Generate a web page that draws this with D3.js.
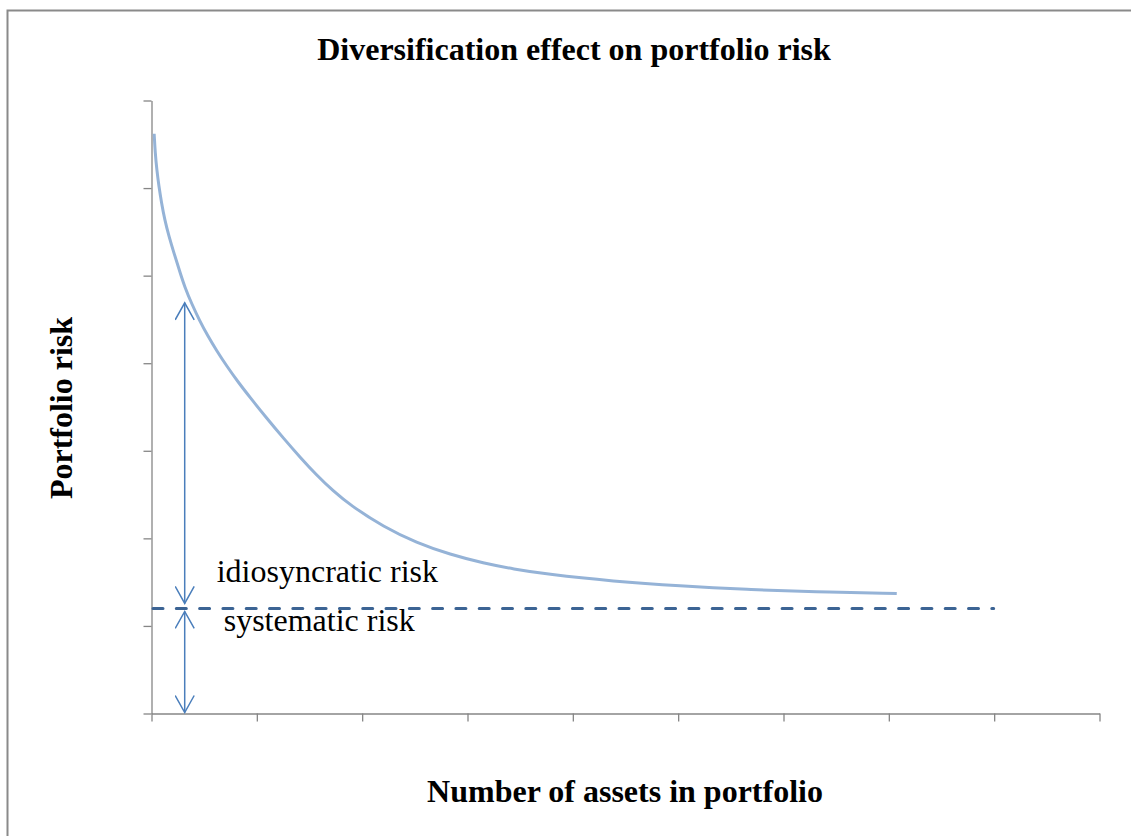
<!DOCTYPE html>
<html>
<head>
<meta charset="utf-8">
<script src="https://cdn.jsdelivr.net/npm/d3@7"></script>
<style>
  body { margin: 0; background: #fff; }
  text { font-family: "Times New Roman", "Liberation Serif", serif; }
</style>
</head>
<body>
<div id="chart"></div>
<script>
"use strict"

/* number of assets (axis units) and portfolio risk */
const assets = [0.03, 0.04, 0.055, 0.075, 0.1, 0.13, 0.17, 0.22, 0.27, 0.32, 0.39, 0.46, 0.54,
  0.62, 0.72, 0.83, 0.94, 1.1, 1.26, 1.42, 1.57, 1.73, 1.89, 2.21, 2.52, 2.84, 3.16, 3.44,
  3.76, 4.39, 5.02, 5.66, 6.29, 7.08];
const risk = [6.62, 6.4, 6.21, 6.02, 5.83, 5.64, 5.45, 5.25, 5.06, 4.87, 4.67, 4.49, 4.31,
  4.15, 3.965, 3.78, 3.61, 3.37, 3.14, 2.92, 2.725, 2.54, 2.38, 2.13, 1.95, 1.815, 1.716, 1.65,
  1.59, 1.51, 1.455, 1.415, 1.39, 1.37];

const systematicRisk = 1.2;
const systematicEnd = 8;
const arrowAt = 0.32;
const arrowTop = 4.69;

const xTicks = [0, 1, 2, 3, 4, 5, 6, 7, 8, 9];
const yTicks = [0, 1, 2, 3, 4, 5, 6, 7];

const titleText = "Diversification effect on portfolio risk";
const xTitle = "Number of assets in portfolio";
const yTitle = "Portfolio risk";

let drawing = d3.select("#chart")
  .append("svg")
  .attr("width", 1131)
  .attr("height", 836);

/* marker for the open arrow heads */
drawing.append("defs").append("marker")
  .attr("id", "head")
  .attr("viewBox", "0 0 20 20")
  .attr("refX", 18)
  .attr("refY", 10)
  .attr("markerWidth", 20)
  .attr("markerHeight", 20)
  .attr("markerUnits", "userSpaceOnUse")
  .attr("orient", "auto-start-reverse")
  .append("path")
  .attr("d", "M1,0.5 L18,10 L1,19.5")
  .attr("fill", "none")
  .attr("stroke", "#4a7ebb")
  .attr("stroke-width", 1.5);

/* chart frame */
drawing.append("rect")
  .attr("x", 7.5)
  .attr("y", 10.5)
  .attr("width", 1140)
  .attr("height", 900)
  .attr("fill", "none")
  .attr("stroke", "#8a8a8a")
  .attr("stroke-width", 2);

let x = d3.scaleLinear().domain([0, 9]).range([151, 1099]);
let y = d3.scaleLinear().domain([0, 7]).range([713.5, 100.5]);

/* axes */
let yAxis = drawing.append("g")
  .attr("transform", "translate(151.5,0)")
  .call(d3.axisLeft(y).tickValues(yTicks).tickSize(8).tickSizeOuter(0).tickFormat(""));

let xAxis = drawing.append("g")
  .attr("transform", "translate(0.5,713.5)")
  .call(d3.axisBottom(x).tickValues(xTicks).tickSize(8).tickSizeOuter(0).tickFormat(""));

drawing.selectAll(".domain, .tick line")
  .attr("stroke", "#868686")
  .attr("stroke-width", 1.3);

/* risk curve */
let line = d3.line()
  .x(function (d, i) { return x(assets[i]); })
  .y(function (d, i) { return y(risk[i]); })
  .curve(d3.curveBasis);

drawing.append("path")
  .datum(risk)
  .attr("d", line)
  .attr("fill", "none")
  .attr("stroke", "#95b3d7")
  .attr("stroke-width", 3);

/* systematic risk level */
drawing.append("line")
  .attr("x1", x(0) + 2)
  .attr("y1", y(systematicRisk))
  .attr("x2", x(systematicEnd))
  .attr("y2", y(systematicRisk))
  .attr("stroke", "#3c6494")
  .attr("stroke-width", 3)
  .attr("stroke-linecap", "round")
  .attr("stroke-dasharray", "10 13.3");

/* idiosyncratic arrow */
drawing.append("line")
  .attr("x1", x(arrowAt))
  .attr("y1", y(systematicRisk) - 5)
  .attr("x2", x(arrowAt))
  .attr("y2", y(arrowTop))
  .attr("stroke", "#4a7ebb")
  .attr("stroke-width", 1.5)
  .attr("marker-start", "url(#head)")
  .attr("marker-end", "url(#head)");

/* systematic arrow */
drawing.append("line")
  .attr("x1", x(arrowAt))
  .attr("y1", y(systematicRisk) + 3)
  .attr("x2", x(arrowAt))
  .attr("y2", y(0) - 1)
  .attr("stroke", "#4a7ebb")
  .attr("stroke-width", 1.5)
  .attr("marker-start", "url(#head)")
  .attr("marker-end", "url(#head)");

/* labels */
drawing.append("text")
  .attr("x", x(arrowAt) + 32)
  .attr("y", y(systematicRisk) - 26)
  .attr("font-size", 32)
  .attr("fill", "#000")
  .text("idiosyncratic risk");

drawing.append("text")
  .attr("x", x(arrowAt) + 39)
  .attr("y", y(systematicRisk) + 23)
  .attr("font-size", 32)
  .attr("fill", "#000")
  .text("systematic risk");

drawing.append("text")
  .attr("x", 574)
  .attr("y", 60)
  .attr("text-anchor", "middle")
  .attr("font-size", 32)
  .attr("font-weight", "bold")
  .text(titleText);

drawing.append("text")
  .attr("x", 625)
  .attr("y", 802)
  .attr("text-anchor", "middle")
  .attr("font-size", 32)
  .attr("font-weight", "bold")
  .text(xTitle);

drawing.append("text")
  .attr("transform", "translate(72,408) rotate(-90)")
  .attr("text-anchor", "middle")
  .attr("font-size", 32)
  .attr("font-weight", "bold")
  .text(yTitle);
</script>
</body>
</html>
